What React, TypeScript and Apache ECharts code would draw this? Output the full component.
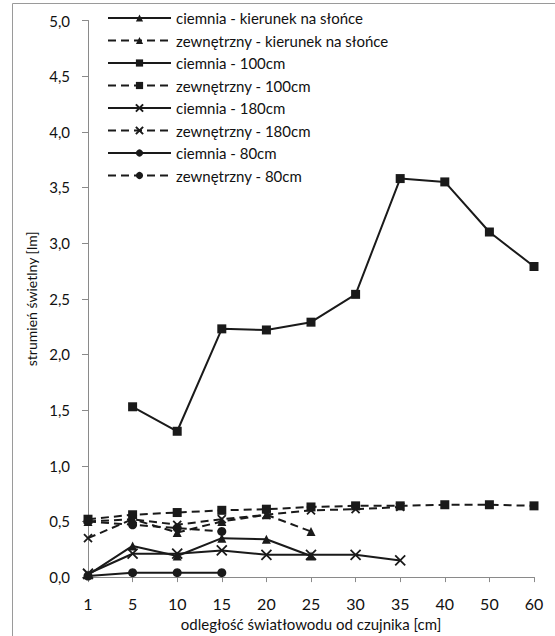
import React, { useEffect, useRef } from "react";
import * as echarts from "echarts";

const categories = ["1", "5", "10", "15", "20", "25", "30", "35", "40", "50", "60"];
const yTicks = [0, 0.5, 1, 1.5, 2, 2.5, 3, 3.5, 4, 4.5, 5];

const ciemniaKierunek = [0.02, 0.28, 0.19, 0.35, 0.34, 0.19];
const zewKierunek = [0.5, 0.52, 0.4, 0.5, 0.56, 0.41];
const ciemnia100 = [null, 1.53, 1.31, 2.23, 2.22, 2.29, 2.54, 3.58, 3.55, 3.1, 2.79];
const zew100 = [0.52, 0.56, 0.58, 0.6, 0.61, 0.63, 0.64, 0.64, 0.65, 0.65, 0.64];
const ciemnia180 = [0.03, 0.21, 0.21, 0.24, 0.2, 0.2, 0.2, 0.15];
const zew180 = [0.35, 0.52, 0.47, 0.52, 0.56, 0.6, 0.61, 0.63];
const ciemnia80 = [0.01, 0.04, 0.04, 0.04];
const zew80 = [0.5, 0.47, 0.44, 0.41];

const X_PATH = "path://M0,0L10,10M10,0L0,10";

export default function App() {
  const ref = useRef<HTMLDivElement>(null);
  useEffect(() => {
    if (!ref.current) return;
    const chart = echarts.init(ref.current, undefined, { renderer: "svg" });
    const black = "#1a1a1a";
    const mk = (
      name: string,
      data: (number | null)[],
      symbol: string,
      size: number,
      dashed: boolean,
      stroke = false
    ) => ({
      name,
      type: "line",
      data,
      symbol,
      symbolSize: size,
      showSymbol: true,
      connectNulls: false,
      itemStyle: {
        color: black,
        borderColor: black,
        borderWidth: stroke ? 1.8 : 0,
      },
      lineStyle: { color: black, width: 2, type: dashed ? [8, 5] : "solid" },
      emphasis: { disabled: true },
    });
    chart.setOption({
      animation: false,
      backgroundColor: "#ffffff",
      textStyle: { fontFamily: "Lato" },
      grid: { left: 88, right: 21, top: 20.5, bottom: 53, containLabel: false },
      legend: {
        orient: "vertical",
        left: 102,
        top: 4,
        itemWidth: 63,
        itemHeight: 9,
        itemGap: 4.5,
        textStyle: { fontSize: 15, color: "#111", fontFamily: "Lato", lineHeight: 18 },
        data: [
          "ciemnia - kierunek na słońce",
          "zewnętrzny - kierunek na słońce",
          "ciemnia - 100cm",
          "zewnętrzny - 100cm",
          "ciemnia - 180cm",
          "zewnętrzny - 180cm",
          "ciemnia - 80cm",
          "zewnętrzny - 80cm",
        ],
      },
      xAxis: {
        type: "category",
        data: categories,
        boundaryGap: false,
        name: "odległość światłowodu od czujnika [cm]",
        nameLocation: "middle",
        nameGap: 38,
        nameTextStyle: { fontSize: 15, color: "#111", fontFamily: "Lato" },
        axisLine: { lineStyle: { color: "#8a8a8a", width: 1 } },
        axisTick: { show: true, inside: false, length: 5, interval: 0, lineStyle: { color: "#8a8a8a" } },
        axisLabel: { fontSize: 16, color: "#111", margin: 18, interval: 0, fontFamily: "Lato" },
        splitLine: { show: false },
      },
      yAxis: {
        type: "value",
        min: 0,
        max: 5,
        interval: 0.5,
        name: "strumień świetlny [lm]",
        nameLocation: "middle",
        nameGap: 46,
        nameRotate: 90,
        nameTextStyle: { fontSize: 14, color: "#111", fontFamily: "Lato" },
        axisLine: { show: true, lineStyle: { color: "#8a8a8a", width: 1 } },
        axisTick: { show: true, inside: false, length: 6, lineStyle: { color: "#8a8a8a" } },
        axisLabel: {
          fontSize: 15,
          color: "#111",
          margin: 18,
          fontFamily: "Lato",
          formatter: (v: number) => v.toFixed(1).replace(".", ","),
        },
        splitLine: { show: false },
      },
      graphic: [
        { type: "line", shape: { x1: 12.5, y1: 3.5, x2: 555, y2: 3.5 }, style: { stroke: "#9a9a9a", lineWidth: 1 } },
        { type: "line", shape: { x1: 12.5, y1: 3.5, x2: 12.5, y2: 636 }, style: { stroke: "#9a9a9a", lineWidth: 1 } },
      ],
      series: [
        mk("ciemnia - kierunek na słońce", ciemniaKierunek, "triangle", 9, false),
        mk("zewnętrzny - kierunek na słońce", zewKierunek, "triangle", 9, true),
        mk("ciemnia - 100cm", ciemnia100, "rect", 9, false),
        mk("zewnętrzny - 100cm", zew100, "rect", 9, true),
        mk("ciemnia - 180cm", ciemnia180, X_PATH, 10, false, true),
        mk("zewnętrzny - 180cm", zew180, X_PATH, 8, true, true),
        mk("ciemnia - 80cm", ciemnia80, "circle", 9, false),
        mk("zewnętrzny - 80cm", zew80, "circle", 9, true),
      ],
    });
    return () => chart.dispose();
  }, []);
  return (
    <div
      ref={ref}
      style={{ position: "fixed", left: 0, top: 0, width: 555, height: 636, background: "#fff" }}
    />
  );
}
